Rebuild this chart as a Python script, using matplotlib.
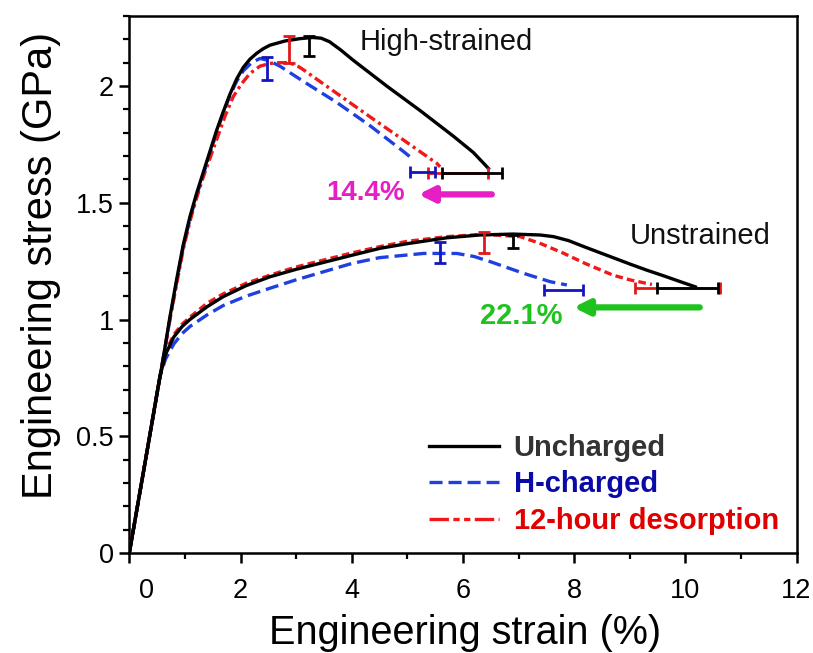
import matplotlib
matplotlib.use("Agg")
import matplotlib.pyplot as plt
from matplotlib.lines import Line2D
from matplotlib.ticker import MultipleLocator, FixedLocator
import matplotlib.transforms as mtransforms

plt.rcParams['font.family'] = ['Liberation Sans', 'DejaVu Sans']
plt.rcParams['lines.scale_dashes'] = False

# ---------------- data ----------------
# High-strained specimens
hs_unch_x = [0, 0.3, 0.61, 0.73, 0.85, 0.97, 1.09, 1.21, 1.33, 1.45, 1.57, 1.69, 1.81, 1.93, 2.05, 2.17, 2.29, 2.41, 2.53, 2.8, 3.07, 3.3, 3.45, 3.6, 3.8, 4.03, 4.63, 5.23, 5.83, 6.19, 6.46]
hs_unch_y = [0, 0.41, 0.834, 1.01, 1.17, 1.32, 1.44, 1.54, 1.63, 1.72, 1.81, 1.89, 1.965, 2.03, 2.08, 2.115, 2.14, 2.16, 2.175, 2.193, 2.203, 2.208, 2.205, 2.19, 2.155, 2.11, 2.0, 1.895, 1.785, 1.715, 1.647]

hs_h_x = [0, 0.3, 0.61, 0.73, 0.85, 0.97, 1.09, 1.21, 1.33, 1.45, 1.57, 1.69, 1.81, 1.93, 2.05, 2.2, 2.35, 2.5, 2.71, 3.13, 3.73, 4.33, 4.93, 5.11]
hs_h_y = [0, 0.41, 0.834, 1.0, 1.16, 1.31, 1.43, 1.53, 1.62, 1.71, 1.80, 1.885, 1.96, 2.02, 2.065, 2.1, 2.118, 2.11, 2.085, 2.02, 1.93, 1.83, 1.72, 1.685]

hs_des_x = [0, 0.3, 0.61, 0.73, 0.85, 0.97, 1.09, 1.21, 1.33, 1.45, 1.57, 1.72, 1.87, 2.02, 2.17, 2.35, 2.53, 2.7, 2.85, 3.0, 3.13, 3.73, 4.33, 4.93, 5.53, 5.59]
hs_des_y = [0, 0.41, 0.834, 1.0, 1.15, 1.30, 1.42, 1.52, 1.61, 1.69, 1.77, 1.87, 1.955, 2.01, 2.054, 2.085, 2.097, 2.1, 2.1, 2.09, 2.07, 1.969, 1.868, 1.769, 1.669, 1.654]

# Unstrained specimens
us_unch_x = [0, 0.3, 0.55, 0.65, 0.8, 0.95, 1.09, 1.4, 1.69, 2.1, 2.53, 3.0, 3.5, 4.0, 4.51, 5.0, 5.71, 6.3, 6.9, 7.39, 7.63, 7.9, 8.2, 8.5, 8.7, 9.0, 9.3, 9.6, 9.9, 10.18]
us_unch_y = [0, 0.41, 0.755, 0.85, 0.925, 0.97, 1.0, 1.055, 1.098, 1.145, 1.183, 1.215, 1.245, 1.275, 1.305, 1.325, 1.35, 1.362, 1.366, 1.362, 1.355, 1.338, 1.31, 1.283, 1.265, 1.238, 1.212, 1.188, 1.163, 1.14]

us_h_x = [0, 0.3, 0.55, 0.65, 0.8, 0.95, 1.09, 1.4, 1.69, 2.1, 2.53, 3.0, 3.5, 4.0, 4.5, 5.29, 5.89, 6.2, 6.49, 7.09, 7.57, 7.87]
us_h_y = [0, 0.41, 0.755, 0.83, 0.895, 0.94, 0.97, 1.02, 1.06, 1.10, 1.134, 1.17, 1.205, 1.24, 1.265, 1.283, 1.283, 1.27, 1.248, 1.198, 1.162, 1.148]

us_des_x = [0, 0.3, 0.55, 0.65, 0.8, 0.95, 1.09, 1.4, 1.69, 2.1, 2.53, 3.0, 3.5, 4.0, 4.5, 5.0, 5.71, 6.38, 7.03, 7.4, 7.8, 8.2, 8.7, 9.0, 9.3, 9.4]
us_des_y = [0, 0.41, 0.755, 0.86, 0.935, 0.98, 1.01, 1.07, 1.11, 1.155, 1.19, 1.225, 1.255, 1.285, 1.312, 1.335, 1.355, 1.365, 1.355, 1.325, 1.285, 1.24, 1.19, 1.17, 1.155, 1.15]

# Peak (UTS) error bars: x, y, yerr  order: uncharged, H-charged, desorption
hs_peak_x = [3.24, 2.47, 2.87]
hs_peak_y = [2.17, 2.076, 2.156]
hs_peak_err = [0.043, 0.05, 0.059]
us_peak_x = [6.9, 5.58, 6.38]
us_peak_y = [1.333, 1.287, 1.328]
us_peak_err = [0.028, 0.047, 0.045]

# Elongation error bars: x, y, xerr
hs_el_x = [6.16, 5.27, 5.92]
hs_el_y = [1.626, 1.632, 1.626]
hs_el_err = [0.54, 0.23, 0.54]
us_el_x = [10.04, 7.81, 9.86]
us_el_y = [1.134, 1.128, 1.134]
us_el_err = [0.55, 0.35, 0.76]

labels = ["Uncharged", "H-charged", "12-hour desorption"]
line_colors = ["black", "#1f3fe0", "#f01818"]
bar_colors = ["black", "#1414c0", "#e01818"]
text_colors = ["#333333", "#0a0aa8", "#e00000"]

x_ticks = [0, 2, 4, 6, 8, 10, 12]
y_ticks = [0, 0.5, 1, 1.5, 2]
y_tick_labels = ["0", "0.5", "1", "1.5", "2"]

# ---------------- figure ----------------
fig = plt.figure(figsize=(8.13, 6.53), dpi=100)
ax = fig.add_axes([129.3 / 813, 1 - 553 / 653, (796.5 - 129.3) / 813, (553 - 16) / 653])

lw = 2.4
dash_blue = (0, (9.4, 4.3))
dash_red_hs = (0, (7.2, 2.9, 2.2, 2.9))
dash_red_us = (0, (5.5, 3.0))
dash_red_leg = (0, (14, 3.2, 4.5, 3.2, 4.5, 3.2))

ax.plot(hs_unch_x, hs_unch_y, color=line_colors[0], lw=lw, zorder=5)
ax.plot(hs_h_x, hs_h_y, color=line_colors[1], lw=lw, linestyle=dash_blue, zorder=4)
ax.plot(hs_des_x, hs_des_y, color=line_colors[2], lw=lw, linestyle=dash_red_hs, zorder=4)

ax.plot(us_unch_x, us_unch_y, color=line_colors[0], lw=lw, zorder=5)
ax.plot(us_h_x, us_h_y, color=line_colors[1], lw=lw, linestyle=dash_blue, zorder=4)
ax.plot(us_des_x, us_des_y, color=line_colors[2], lw=lw, linestyle=dash_red_us, zorder=4)

eb = dict(fmt='none', elinewidth=2.0, capsize=4.5, capthick=2.0, zorder=6)
for i in range(3):
    ax.errorbar([hs_peak_x[i]], [hs_peak_y[i]], yerr=[hs_peak_err[i]], ecolor=bar_colors[i], **eb)
    ax.errorbar([us_peak_x[i]], [us_peak_y[i]], yerr=[us_peak_err[i]], ecolor=bar_colors[i], **eb)
for i in [2, 1, 0]:
    ax.errorbar([hs_el_x[i]], [hs_el_y[i]], xerr=[hs_el_err[i]], ecolor=bar_colors[i], **eb)
    ax.errorbar([us_el_x[i]], [us_el_y[i]], xerr=[us_el_err[i]], ecolor=bar_colors[i], **eb)

# annotations
ax.text(4.15, 2.188, "High-strained", fontsize=21, va='center', ha='left', color='#111111')
ax.text(9.0, 1.358, "Unstrained", fontsize=21, va='center', ha='left', color='#111111')

ax.annotate("", xy=(5.2, 1.536), xytext=(6.52, 1.536),
            arrowprops=dict(arrowstyle='-|>,head_length=0.9,head_width=0.45', color='#e61ec3', lw=4.5, shrinkA=0, shrinkB=0))
ax.text(4.25, 1.54, "14.4%", fontsize=20, fontweight='bold', color='#e61ec3', ha='center', va='center')

ax.annotate("", xy=(7.99, 1.052), xytext=(10.26, 1.052),
            arrowprops=dict(arrowstyle='-|>,head_length=0.9,head_width=0.45', color='#1ec31e', lw=4.5, shrinkA=0, shrinkB=0))
ax.text(7.05, 1.016, "22.1%", fontsize=21, fontweight='bold', color='#1ec31e', ha='center', va='center')

# axes formatting
ax.set_xlim(0, 12)
ax.set_ylim(0, 2.3)
ax.xaxis.set_major_locator(FixedLocator(x_ticks))
ax.xaxis.set_minor_locator(MultipleLocator(1))
ax.yaxis.set_major_locator(FixedLocator(y_ticks))
ax.yaxis.set_minor_locator(MultipleLocator(0.1))
ax.set_yticklabels(y_tick_labels)
ax.set_xticklabels([str(v) for v in x_ticks])
for s in ax.spines.values():
    s.set_linewidth(1.8)
ax.tick_params(which='major', direction='out', length=7, width=1.8, labelsize=19.5)
ax.tick_params(axis='x', which='major', pad=11)
ax.tick_params(axis='y', which='major', pad=4)
ax.tick_params(which='minor', direction='out', length=4.3, width=1.6)

# shift the "0" x tick label to the right
lbl0 = ax.get_xticklabels()[0]
lbl0.set_transform(lbl0.get_transform() + mtransforms.ScaledTranslation(12.6 / 72, 0, fig.dpi_scale_trans))

ax.set_xlabel("Engineering strain (%)", fontsize=28.5)
ax.set_ylabel("Engineering stress (GPa)", fontsize=30)
ax.xaxis.set_label_coords((465 - 129.3) / 667.2, (553 - 614) / 537)
ax.yaxis.set_label_coords((61 - 129.3) / 667.2, (553 - 265) / 537)

# legend
handles = [Line2D([], [], color=line_colors[0], lw=lw),
           Line2D([], [], color=line_colors[1], lw=lw, linestyle=dash_blue),
           Line2D([], [], color=line_colors[2], lw=lw, linestyle=dash_red_leg)]
leg = ax.legend(handles, labels, loc='upper left',
                bbox_to_anchor=((429 - 129.3) / 667.2, (553 - 434) / 537),
                frameon=False, borderpad=0, borderaxespad=0, handlelength=2.4,
                handletextpad=0.5, labelspacing=0.29, prop=dict(size=21, weight='bold'))
for t, c in zip(leg.get_texts(), text_colors):
    t.set_color(c)

fig.savefig("out.png", dpi=100)
